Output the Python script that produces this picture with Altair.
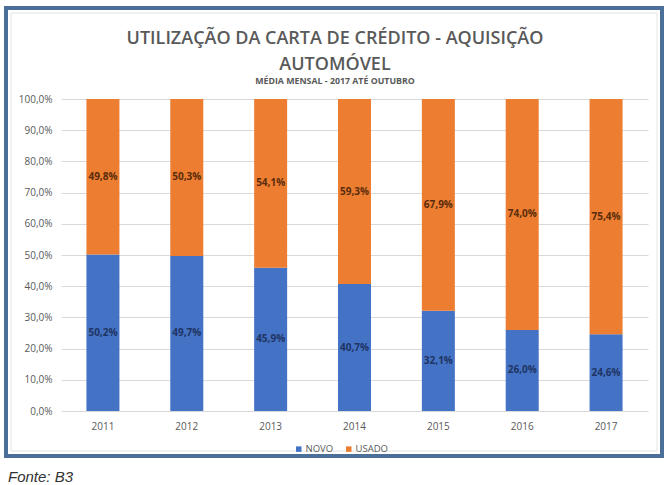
import altair as alt
import pandas as pd

# Participação mensal média (%) por tipo de veículo adquirido
anos = ["2011", "2012", "2013", "2014", "2015", "2016", "2017"]
novo = [50.2, 49.7, 45.9, 40.7, 32.1, 26.0, 24.6]
usado = [49.8, 50.3, 54.1, 59.3, 67.9, 74.0, 75.4]
series = ["NOVO", "USADO"]
cores = ["#4472c4", "#ed7d31"]
cores_rotulo = ["#1f3463", "#5a2c0c"]
ticks_y = [0.0, 0.1, 0.2, 0.3, 0.4, 0.5, 0.6, 0.7, 0.8, 0.9, 1.0]

titulo = ["UTILIZAÇÃO DA CARTA DE CRÉDITO - AQUISIÇÃO", "AUTOMÓVEL"]
subtitulo = "MÉDIA MENSAL - 2017 ATÉ OUTUBRO"
fonte_txt = "Fonte: B3"

rows = []
for i, ano in enumerate(anos):
    rows.append({"ano": ano, "tipo": "NOVO", "ordem": 0, "pct": novo[i]})
    rows.append({"ano": ano, "tipo": "USADO", "ordem": 1, "pct": usado[i]})
df = pd.DataFrame(rows)

FONT = "Open Sans"
GRAY = "#595959"

base = (
    alt.Chart(df)
    .transform_calculate(frac="datum.pct / 100")
    .transform_stack(
        stack="frac", groupby=["ano"], as_=["y0", "y1"],
        sort=[alt.SortField("ordem", order="ascending")],
    )
    .transform_calculate(
        mid="(datum.y0 + datum.y1) / 2",
        rotulo="replace(format(datum.frac, '.1%'), '.', ',')",
    )
)

x_enc = alt.X(
    "ano:N", sort=anos, title=None,
    scale=alt.Scale(paddingInner=0, paddingOuter=0),
    axis=alt.Axis(labelAngle=0, domain=False, ticks=False, labelPadding=10,
                  labelColor=GRAY, labelFontSize=10, labelFont=FONT),
)
y_scale = alt.Scale(domain=[0, 1], nice=False)
y_axis = alt.Axis(
    values=ticks_y, tickCount=11,
    labelExpr="replace(format(datum.value, '.1%'), '.', ',')",
    labelOverlap=False, labelBound=False,
    domain=False, ticks=False, labelPadding=9,
    grid=True, gridColor="#d9d9d9",
    labelColor=GRAY, labelFontSize=10, labelFont=FONT,
)

bars = base.mark_bar(size=33).encode(
    x=x_enc,
    y=alt.Y("y0:Q", title=None, scale=y_scale, axis=y_axis),
    y2="y1:Q",
    color=alt.Color(
        "tipo:N", title=None,
        scale=alt.Scale(domain=series, range=cores),
        legend=alt.Legend(
            orient="none", legendX=233, legendY=345, direction="horizontal",
            symbolType="square", symbolSize=30, symbolStrokeWidth=0,
            labelFont=FONT, labelFontSize=9.5, labelColor=GRAY,
            labelOffset=2, columnPadding=10,
        ),
    ),
    order=alt.Order("ordem:Q"),
)

labels = base.mark_text(font=FONT, fontSize=10, fontWeight="bold").encode(
    x=x_enc,
    y=alt.Y("mid:Q", title=None, scale=y_scale, axis=y_axis),
    text="rotulo:N",
    color=alt.Color("tipo:N", scale=alt.Scale(domain=series, range=cores_rotulo),
                    legend=None),
)

one = pd.DataFrame({"k": [0]})

# Moldura externa azul e filete interno claro
frame = alt.Chart(one).mark_rect(
    fill=None, stroke="#4a6f98", strokeWidth=4
).encode(
    x=alt.value(-55), x2=alt.value(601), y=alt.value(-91), y2=alt.value(357)
)
inner = alt.Chart(one).mark_rect(
    fill=None, stroke="#e3e3e3", strokeWidth=1
).encode(
    x=alt.value(-50), x2=alt.value(596), y=alt.value(-86), y2=alt.value(352)
)

# Título em duas linhas e subtítulo
t1 = alt.Chart(one).mark_text(
    text=titulo[0], font=FONT, fontSize=18, fontWeight=600, color=GRAY,
    align="center", baseline="middle",
).encode(x=alt.value(274), y=alt.value(-60.5))
t2 = alt.Chart(one).mark_text(
    text=titulo[1], font=FONT, fontSize=18, fontWeight=600, color=GRAY,
    align="center", baseline="middle",
).encode(x=alt.value(274), y=alt.value(-34.5))
st = alt.Chart(one).mark_text(
    text=subtitulo, font=FONT, fontSize=8.8, fontWeight="bold", color=GRAY,
    align="center", baseline="middle",
).encode(x=alt.value(274), y=alt.value(-18))

fonte = alt.Chart(one).mark_text(
    text=fonte_txt, font="Liberation Sans", fontStyle="italic",
    fontSize=15, align="left", baseline="middle", color="#333333",
).encode(x=alt.value(-53), y=alt.value(378))

chart = (
    alt.layer(frame, inner, bars, labels, t1, t2, st, fonte)
    .resolve_scale(color="independent")
    .properties(
        width=587, height=312,
        padding={"left": 61, "top": 99, "right": 22, "bottom": 74},
        autosize=alt.AutoSizeParams(type="none"),
        background="white",
    )
    .configure_view(stroke=None)
)

chart.save("out.html", embed_options={"renderer": "svg", "actions": False})
